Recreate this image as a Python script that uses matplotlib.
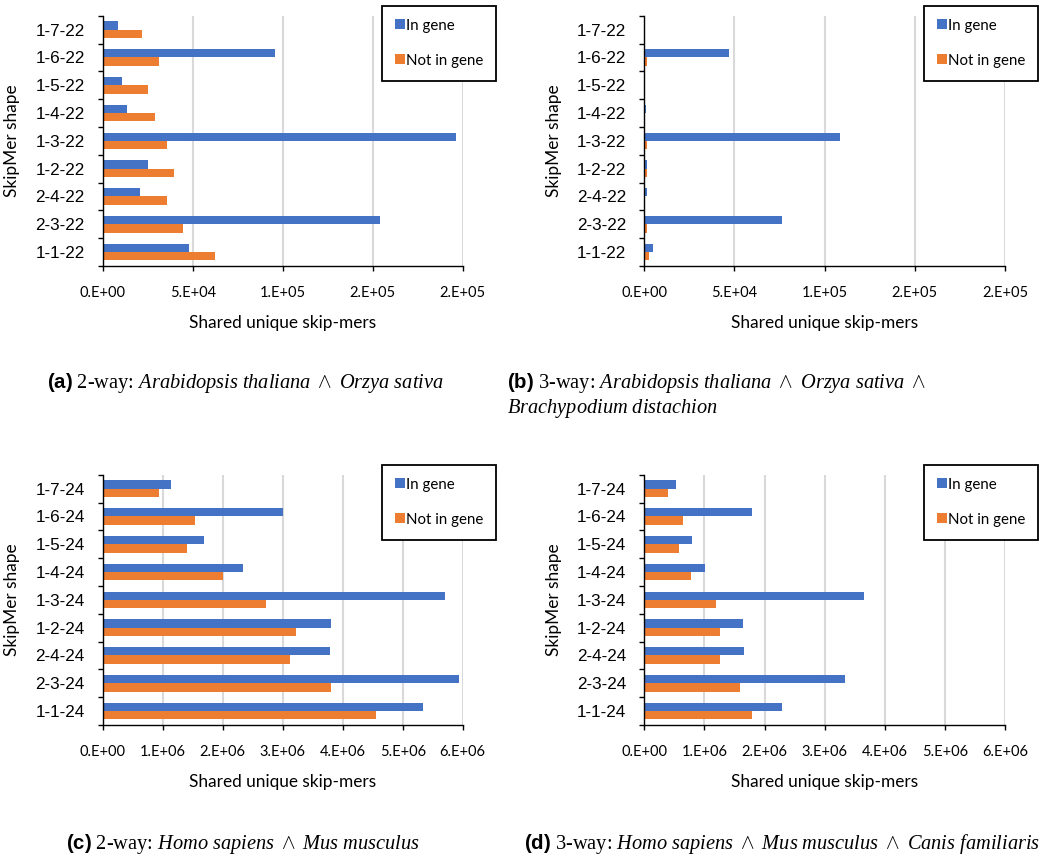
import numpy as np
import matplotlib
matplotlib.use('Agg')
import matplotlib.pyplot as plt

plt.rcParams['mathtext.fontset'] = 'custom'
plt.rcParams['mathtext.rm'] = 'Liberation Serif'
plt.rcParams['mathtext.it'] = 'Liberation Serif:italic'
plt.rcParams['mathtext.bf'] = 'Liberation Sans:bold'

# categories, bottom to top
shapes_22 = ['1-1-22', '2-3-22', '2-4-22', '1-2-22', '1-3-22', '1-4-22', '1-5-22', '1-6-22', '1-7-22']
shapes_24 = ['1-1-24', '2-3-24', '2-4-24', '1-2-24', '1-3-24', '1-4-24', '1-5-24', '1-6-24', '1-7-24']

# (a) 2-way plants
a_in = [48000, 153900, 20900, 25200, 196500, 13700, 10500, 95700, 8500]
a_out = [62400, 44800, 35500, 39600, 35500, 29300, 25200, 31300, 22000]
# (b) 3-way plants
b_in = [4800, 76300, 1700, 1700, 108500, 700, 500, 47100, 300]
b_out = [2600, 1700, 500, 1700, 1700, 600, 500, 1700, 500]
# (c) 2-way mammals
c_in = [5.33e6, 5.93e6, 3.78e6, 3.81e6, 5.71e6, 2.34e6, 1.69e6, 3.00e6, 1.13e6]
c_out = [4.56e6, 3.81e6, 3.12e6, 3.22e6, 2.72e6, 2.00e6, 1.41e6, 1.53e6, 0.94e6]
# (d) 3-way mammals
d_in = [2.29e6, 3.34e6, 1.66e6, 1.64e6, 3.66e6, 1.01e6, 0.79e6, 1.79e6, 0.52e6]
d_out = [1.79e6, 1.60e6, 1.26e6, 1.26e6, 1.20e6, 0.77e6, 0.58e6, 0.64e6, 0.39e6]

ticks_plant = [0, 50000, 100000, 150000, 200000]
ticklabels_plant = ['0.E+00', '5.E+04', '1.E+05', '2.E+05', '2.E+05']
ticks_mammal = [0, 1e6, 2e6, 3e6, 4e6, 5e6, 6e6]
ticklabels_mammal = ['0.E+00', '1.E+06', '2.E+06', '3.E+06', '4.E+06', '5.E+06', '6.E+06']

series_names = ['In gene', 'Not in gene']
blue = '#4472C4'
orange = '#ED7D31'

W, H = 1039, 857
fig = plt.figure(figsize=(W / 100, H / 100), dpi=100)


def px_axes(left, top, right, bottom):
    return fig.add_axes([left / W, 1 - bottom / H, (right - left) / W, (bottom - top) / H])


def panel(ax, cats, v_in, v_out, ticks, ticklabels, leg_xy):
    y = np.arange(len(cats))
    h = 0.3
    ax.barh(y + h / 2, v_in, height=h, color=blue, label=series_names[0], zorder=3)
    ax.barh(y - h / 2, v_out, height=h, color=orange, label=series_names[1], zorder=3)
    ax.set_xlim(ticks[0], ticks[-1])
    ax.set_ylim(-0.5, len(cats) - 0.5)
    ax.set_xticks(ticks)
    ax.set_xticklabels(ticklabels, fontfamily='Lato', fontsize=10.5)
    ax.set_yticks(y)
    ax.set_yticklabels(cats, fontfamily='Liberation Sans', fontsize=12.3)
    ax.set_yticks(np.arange(-0.5, len(cats)), minor=True)
    ax.tick_params(axis='y', which='major', length=0, pad=13)
    ax.tick_params(axis='y', which='minor', length=3.6, width=1.0, direction='out')
    ax.tick_params(axis='x', which='major', length=3.4, width=1.0, direction='out', pad=11)
    ax.grid(axis='x', color='#D9D9D9', linewidth=1.5, zorder=0)
    for s in ['top', 'right']:
        ax.spines[s].set_visible(False)
    for s in ['left', 'bottom']:
        ax.spines[s].set_linewidth(1.0)
        ax.spines[s].set_zorder(4)
    ax.set_xlabel('Shared unique skip-mers', fontfamily='Lato', fontsize=12.4, labelpad=11)
    ax.set_ylabel('SkipMer shape', fontfamily='Lato', fontsize=12.4)
    ax.yaxis.set_label_coords(-0.229, 0.5)
    leg = ax.legend(loc='upper left', bbox_to_anchor=(leg_xy[0] / W, 1 - leg_xy[1] / H),
                    bbox_transform=fig.transFigure, borderaxespad=0, fancybox=False,
                    edgecolor='black', framealpha=1, handlelength=0.65, handleheight=0.65,
                    handletextpad=0.1, labelspacing=1.4, borderpad=0.85,
                    prop={'family': 'Lato', 'size': 10.8})
    leg.get_frame().set_linewidth(1.3)


ax_a = px_axes(102.7, 15.7, 462.7, 266)
panel(ax_a, shapes_22, a_in, a_out, ticks_plant, ticklabels_plant, (382, 6))
ax_b = px_axes(644.3, 15.7, 1005, 266)
panel(ax_b, shapes_22, b_in, b_out, ticks_plant, ticklabels_plant, (924, 6))
ax_c = px_axes(102.7, 474.7, 462.7, 725)
panel(ax_c, shapes_24, c_in, c_out, ticks_mammal, ticklabels_mammal, (382, 465))
ax_d = px_axes(644.3, 474.7, 1005, 725)
panel(ax_d, shapes_24, d_in, d_out, ticks_mammal, ticklabels_mammal, (924, 465))

cap = dict(fontfamily='Liberation Serif', fontsize=14.7, va='baseline')
fig.text(245 / W, 1 - 388 / H,
         r'$\mathbf{(a)}$ 2-way: $\mathit{Arabidopsis\ thaliana}\ \wedge\ \mathit{Orzya\ sativa}$',
         ha='center', **cap)
fig.text(507 / W, 1 - 388 / H,
         r'$\mathbf{(b)}$ 3-way: $\mathit{Arabidopsis\ thaliana}\ \wedge\ \mathit{Orzya\ sativa}\ \wedge$',
         ha='left', **cap)
fig.text(507 / W, 1 - 413 / H, r'$\mathit{Brachypodium\ distachion}$', ha='left', **cap)
fig.text(243 / W, 1 - 849 / H,
         r'$\mathbf{(c)}$ 2-way: $\mathit{Homo\ sapiens}\ \wedge\ \mathit{Mus\ musculus}$',
         ha='center', **cap)
fig.text(524 / W, 1 - 849 / H,
         r'$\mathbf{(d)}$ 3-way: $\mathit{Homo\ sapiens}\ \wedge\ \mathit{Mus\ musculus}\ \wedge\ \mathit{Canis\ familiaris}$',
         ha='left', **cap)

plt.savefig('out.png', dpi=100)
